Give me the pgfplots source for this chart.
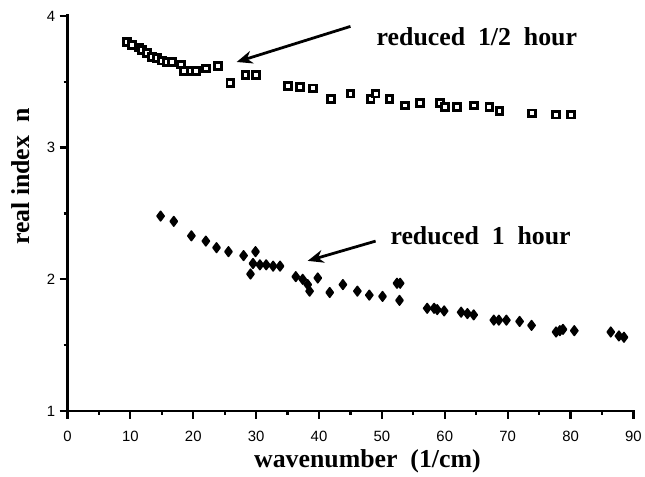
\documentclass[border=0pt]{standalone}
\usepackage{pgfplots}
\pgfplotsset{compat=1.18}
\usepackage{pgfplotstable}
\usetikzlibrary{arrows.meta}
\usepackage{fontspec}
\setmainfont{Liberation Serif}
\newfontfamily\ticksf{Liberation Sans}

\pgfplotstableread{
x y
9.5 3.80
10.3 3.78
11.4 3.76
11.8 3.74
12.6 3.72
13.4 3.69
14.2 3.68
15.0 3.66
15.8 3.65
16.6 3.65
18.0 3.63
18.5 3.58
19.6 3.58
20.4 3.58
22.0 3.60
23.9 3.62
25.9 3.49
28.3 3.55
30.0 3.55
35.1 3.47
37.0 3.46
39.0 3.45
41.9 3.37
45.0 3.41
48.2 3.37
49.0 3.41
51.2 3.37
53.7 3.32
56.1 3.34
59.2 3.34
60.0 3.31
61.9 3.31
64.6 3.32
67.1 3.31
68.7 3.28
73.9 3.26
77.7 3.25
80.1 3.25
}\halfhour

\pgfplotstableread{
x y
14.8 2.48
16.9 2.44
19.7 2.33
22.0 2.29
23.7 2.24
25.6 2.21
28.0 2.18
29.1 2.04
29.9 2.21
29.5 2.12
30.6 2.11
31.6 2.11
32.7 2.10
33.8 2.10
36.3 2.02
37.4 2.00
38.2 1.96
38.5 1.91
39.8 2.01
41.7 1.90
43.8 1.96
46.1 1.91
48.0 1.88
50.1 1.87
52.4 1.97
52.9 1.97
52.8 1.84
57.2 1.78
58.3 1.78
58.8 1.77
59.9 1.76
62.6 1.75
63.6 1.74
64.6 1.73
67.8 1.69
68.6 1.69
69.8 1.69
71.9 1.68
73.8 1.65
77.7 1.60
78.3 1.61
78.8 1.62
80.6 1.61
86.4 1.60
87.7 1.57
88.5 1.56
}\onehour

\begin{document}
\begin{tikzpicture}
\begin{axis}[
  scale only axis, width=570pt, height=398pt,
  xmin=0, xmax=90, ymin=1, ymax=4,
  axis lines=left,
  x axis line style={-, line width=2.6pt},
  y axis line style={-, line width=2.6pt},
  xtick={0,10,...,90}, ytick={1,2,3,4},
  minor x tick num=1, minor y tick num=1,
  tick align=outside,
  major tick length=8pt, minor tick length=4pt,
  tick style={black, line width=2.2pt},
  tick label style={font=\fontsize{15}{15}\ticksf},
  xticklabel style={yshift=-9pt},
  yticklabel style={xshift=-1pt},
  /pgf/number format/assume math mode=true,
  xlabel={wavenumber\ \ (1/cm)},
  ylabel={real index\ \ n},
  label style={font=\fontsize{26}{28}\selectfont\bfseries},
  xlabel style={at={(axis description cs:0.53,-0.127)}, anchor=center},
  ylabel style={at={(axis description cs:-0.0825,0.593)}, anchor=center},
  clip=false,
]
\addplot[only marks, mark=square*, mark size=3.4pt,
  mark options={draw=black, fill=white, line width=2.9pt}] table[x=x,y=y] {\halfhour};
\addplot[only marks, mark=diamond*, mark size=4.8pt,
  mark options={draw=black, fill=black, line width=1.6pt, line join=round}] table[x=x,y=y] {\onehour};

\draw[line width=2.8pt, -{Stealth[length=16pt, width=13pt]}] (axis cs:45.0,3.92) -- (axis cs:26.9,3.65);
\draw[line width=2.8pt, -{Stealth[length=16pt, width=13pt]}] (axis cs:49.0,2.29) -- (axis cs:38.2,2.14);
\node[font=\fontsize{26}{28}\selectfont\bfseries] at (axis cs:65.1,3.84) {reduced\ \ 1/2\ \ hour};
\node[font=\fontsize{26}{28}\selectfont\bfseries] at (axis cs:65.7,2.33) {reduced\ \ 1\ \ hour};
\draw[line width=2.8pt, line cap=rect] (rel axis cs:0,1) -- (rel axis cs:0,0) -- (rel axis cs:1,0);
\pgfplotsinvokeforeach{0,10,20,30,40,50,60,70,80,90}{\draw[line width=2.2pt] (axis cs:#1,1) -- ([yshift=-8pt]axis cs:#1,1);}
\pgfplotsinvokeforeach{5,15,25,35,45,55,65,75,85}{\draw[line width=1.6pt] (axis cs:#1,1) -- ([yshift=-4pt]axis cs:#1,1);}
\pgfplotsinvokeforeach{1,2,3,4}{\draw[line width=2.2pt] (axis cs:0,#1) -- ([xshift=-8pt]axis cs:0,#1);}
\pgfplotsinvokeforeach{1.5,2.5,3.5}{\draw[line width=1.6pt] (axis cs:0,#1) -- ([xshift=-4pt]axis cs:0,#1);}
\path ([shift={(-68pt,-59pt)}]rel axis cs:0,0) rectangle ([shift={(7pt,16pt)}]rel axis cs:1,1);
\end{axis}
\end{tikzpicture}
\end{document}
